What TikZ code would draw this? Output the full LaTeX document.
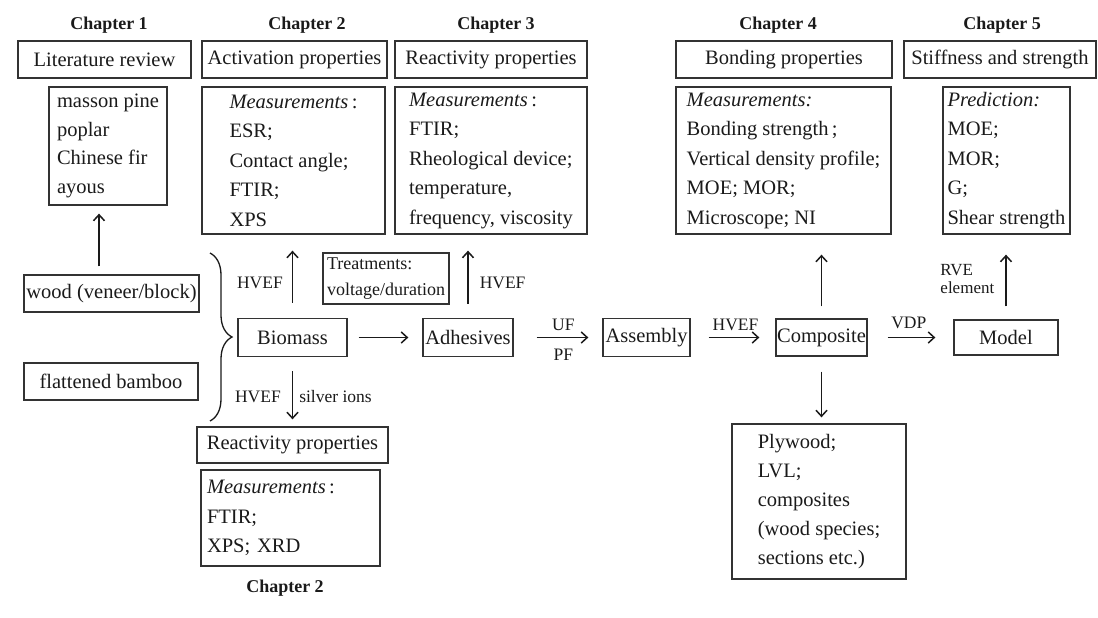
\documentclass[tikz,border=0pt]{standalone}
\usepackage{fontspec}
\setmainfont{Liberation Serif}
\usepackage{tikz}
\usetikzlibrary{arrows.meta,decorations.pathreplacing}
\definecolor{ink}{HTML}{1A1A1A}
\definecolor{edge}{HTML}{333333}
\tikzset{
  >={Straight Barb[length=6pt,width=11pt]},
  box/.style={draw=edge,line width=1.3pt,inner sep=1pt,font=\fontsize{20.5}{29.5}\selectfont,text=ink},
  mbox/.style={box,align=left},
  chap/.style={font=\fontsize{18}{20}\selectfont\bfseries,text=ink},
  lab/.style={font=\fontsize{17.5}{18}\selectfont,text=ink,inner sep=1pt,align=left},
  arr/.style={->,draw=ink,line width=1.5pt},
  brc/.style={draw=ink,line width=1.3pt,decorate,decoration={brace,amplitude=22pt}},
}

\begin{document}
\begin{tikzpicture}[x=1pt,y=-1pt]
\useasboundingbox (0,0) rectangle (1098,618);
% chapter headings
\foreach \x/\n in {109/1,307/2,496/3,778/4,1002/5}
  \node[chap] (ch\n) at (\x,25) {Chapter \n};
\node[chap] (ch2b) at (285,588) {Chapter 2};

% top row of topics
\foreach \nm/\x/\w/\t in {lit/104.5/173/Literature review,act/294.5/185/Activation properties,rea/491/192/Reactivity properties,bond/784/216/Bonding properties,stiff/1000/192/Stiffness and strength}
  \node[box,minimum width=\w pt,minimum height=37pt] (\nm) at (\x,59.5) {\t};

% measurement boxes
\node[mbox,minimum width=118pt,minimum height=118pt,font=\fontsize{20.5}{28.7}\selectfont] (spec) at (108,146) {masson pine\\poplar\\Chinese fir\\ayous};
\node[mbox,minimum width=183pt,minimum height=147pt] (actm) at (293.5,160.5) {\textit{Measurements}\,:\\ESR;\\Contact angle;\\FTIR;\\XPS};
\node[mbox,minimum width=192pt,minimum height=147pt] (ream) at (491,160.5) {\textit{Measurements}\,:\\FTIR;\\Rheological device;\\temperature,\\frequency, viscosity};
\node[mbox,minimum width=215pt,minimum height=147pt] (bondm) at (783.5,160.5) {\textit{Measurements:}\\Bonding strength\,;\\Vertical density profile;\\MOE; MOR;\\Microscope; NI};
\node[mbox,minimum width=127pt,minimum height=147pt] (pred) at (1006.5,160.5) {\textit{Prediction:}\\MOE;\\MOR;\\G;\\Shear strength};

% raw materials
\node[box,minimum width=175pt,minimum height=37pt] (wood) at (111.5,293.5) {wood (veneer/block)};
\node[box,minimum width=174pt,minimum height=37pt] (bamb) at (111,381.5) {flattened bamboo};
\draw[brc] (210,253) -- (210,421);

% process row
\node[mbox,minimum width=126pt,minimum height=51pt,font=\fontsize{18}{26}\selectfont] (treat) at (386,278.5) {Treatments:\\voltage/duration};
\node[box,minimum width=109pt,minimum height=38pt] (bio) at (292.5,337.5) {Biomass};
\node[box,minimum width=90pt,minimum height=38pt] (adh) at (468,337.5) {Adhesives};
\node[box,minimum width=87pt,minimum height=38pt] (asm) at (646.5,337.5) {Assembly};
\node[box,minimum width=91pt,minimum height=37pt] (comp) at (821.5,337.5) {Composite};
\node[box,minimum width=104pt,minimum height=35pt] (model) at (1006,337.5) {Model};

% lower boxes
\node[box,minimum width=191pt,minimum height=36pt] (rea2) at (292.5,445) {Reactivity properties};
\node[mbox,text width=167pt,minimum width=179pt,minimum height=96pt] (ream2) at (290.5,518) {\textit{Measurements}\,:\\FTIR;\\XPS; XRD};
\node[mbox,minimum width=174pt,minimum height=155pt,font=\fontsize{20.5}{29}\selectfont] (plyw) at (819,501.5) {Plywood;\\LVL;\\composites\\(wood species;\\sections etc.)};

% connectors
\coordinate (w0) at ([xshift=-12.5pt]wood.north);
\draw[arr,shorten <=8pt,shorten >=8pt] (w0) -- (w0 |- spec.south);
\draw[arr,shorten <=15pt,shorten >=16pt] (bio.north) -- (bio.north |- actm.south) node[lab,pos=.42,left=8pt] {HVEF};
\draw[arr,shorten <=14pt,shorten >=16pt] (adh.north) -- (adh.north |- ream.south) node[lab,pos=.42,right=10pt] {HVEF};
\draw[arr,shorten <=14pt,shorten >=7pt] (bio.south) -- (bio.south |- rea2.north) node[lab,pos=.57,left=10pt] {HVEF} node[lab,pos=.57,right=5pt] {silver ions};
\draw[arr,shorten <=11pt,shorten >=14pt] (bio.east) -- (adh.west);
\draw[arr,shorten <=23pt,shorten >=14pt] (adh.east) -- (asm.west) node[lab,pos=.56,above=5pt] {UF} node[lab,pos=.56,below=10pt] {PF};
\draw[arr,shorten <=18pt,shorten >=16pt] (asm.east) -- (comp.west) node[lab,pos=.53,above=5pt] {HVEF};
\draw[arr,shorten <=20pt,shorten >=18pt] (comp.east) -- (model.west) node[lab,pos=.48,above=7pt] {VDP};
\draw[arr,shorten <=12pt,shorten >=20pt] (comp.north) -- (comp.north |- bondm.south);
\draw[arr,shorten <=13pt,shorten >=20pt] (model.north) -- (model.north |- pred.south) node[lab,pos=.48,left=10pt,font=\fontsize{17}{18}\selectfont] {RVE\\element};
\draw[arr,shorten <=15pt,shorten >=6pt] (comp.south) -- (comp.south |- plyw.north);
\end{tikzpicture}
\end{document}
